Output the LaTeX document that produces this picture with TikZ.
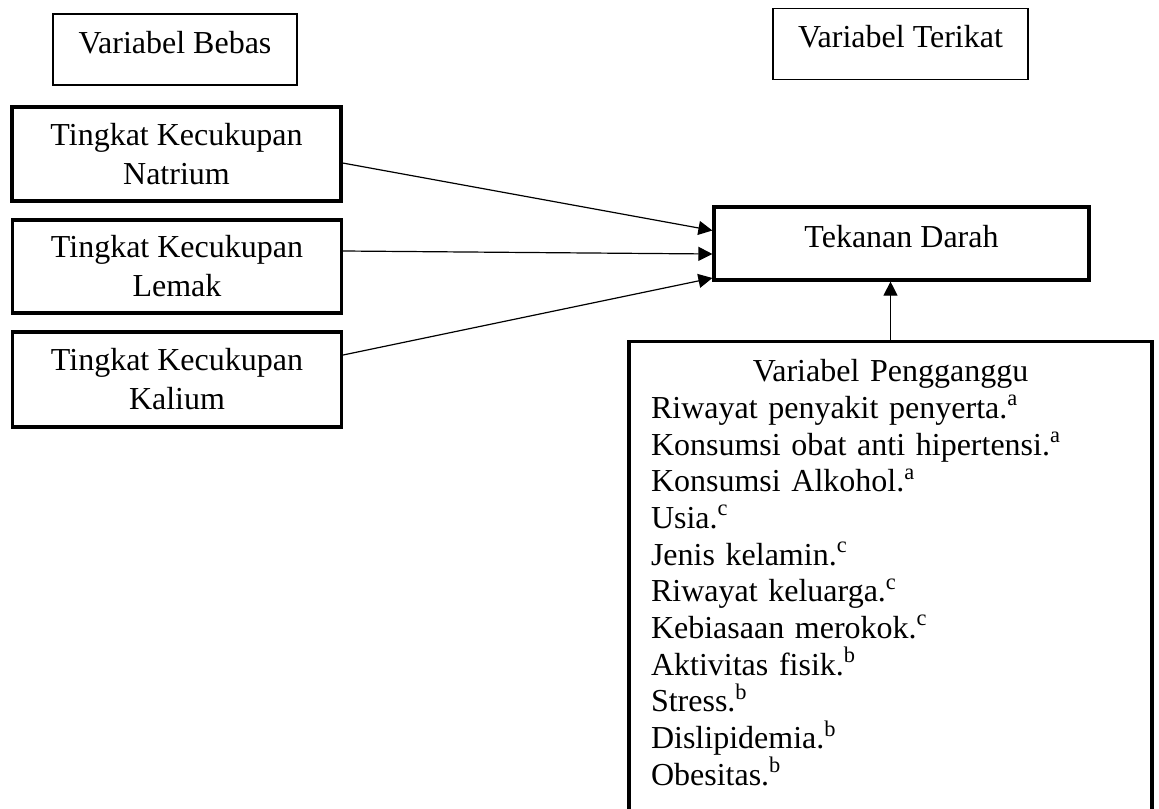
\documentclass[tikz,border=0pt]{standalone}
\usepackage{fontspec}
\setmainfont{Liberation Serif}
\usetikzlibrary{arrows.meta}

\begin{document}
\begin{tikzpicture}[x=0.5pt,y=-0.5pt,
  font=\fontsize{16}{19.5}\selectfont,
  headbox/.style={draw,line width=0.7pt,text height=11pt,text depth=7pt},
  varbox/.style={draw,line width=1.6pt,align=center,minimum width=164.5pt,minimum height=47pt},
  arr/.style={line width=0.6pt,-{Triangle[length=7pt,width=7pt]}}]

\clip (0,0) rectangle (1159,808);

\node[headbox,minimum width=122pt,minimum height=35.5pt] (bebas) at (175,49.5) {Variabel Bebas};
\node[headbox,minimum width=127.5pt,minimum height=35.25pt] (terikat) at (900.5,44) {Variabel Terikat};

\node[varbox] (natrium) at (176.5,154) {Tingkat Kecukupan\\Natrium};
\node[varbox,minimum height=46.5pt] (lemak) at (177,266.5) {Tingkat Kecukupan\\Lemak};
\node[varbox,minimum height=47.5pt] (kalium) at (177,379.5) {Tingkat Kecukupan\\Kalium};

\node[draw,line width=1.6pt,minimum width=187.5pt,minimum height=36.5pt,text height=11pt,text depth=7pt] (tekanan) at (901.5,243.5) {Tekanan Darah};

\node[draw,line width=1.6pt,anchor=north,inner xsep=11pt,inner ysep=9pt,text width=239.5pt,align=left,
  text height=11pt,text depth=240pt,font=\fontsize{16}{18.35}\selectfont] (pengganggu) at (890.5,340)
  {\makebox[\linewidth]{Variabel Pengganggu}\\
   Riwayat penyakit penyerta.\textsuperscript{a}\\
   Konsumsi obat anti hipertensi.\textsuperscript{a}\\
   Konsumsi Alkohol.\textsuperscript{a}\\
   Usia.\textsuperscript{c}\\
   Jenis kelamin.\textsuperscript{c}\\
   Riwayat keluarga.\textsuperscript{c}\\
   Kebiasaan merokok.\textsuperscript{c}\\
   Aktivitas fisik.\textsuperscript{b}\\
   Stress.\textsuperscript{b}\\
   Dislipidemia.\textsuperscript{b}\\
   Obesitas.\textsuperscript{b}};

\draw[arr] ([yshift=-4.5pt]natrium.east) -- ([yshift=6.5pt]tekanan.west);
\draw[arr] ([yshift=7.75pt]lemak.east) -- ([yshift=-5.25pt]tekanan.west);
\draw[arr] ([yshift=12.25pt]kalium.east) -- ([yshift=-17.25pt]tekanan.west);
\draw[arr] (pengganggu.north) -- (pengganggu.north |- tekanan.south);
\end{tikzpicture}
\end{document}
